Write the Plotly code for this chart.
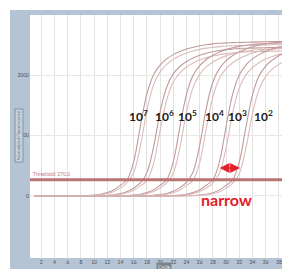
import plotly.graph_objects as go

# ---- data ----
CYCLES = list(range(1, 41))

DILUTION_LABELS = ["10<sup>7</sup>", "10<sup>6</sup>", "10<sup>5</sup>",
                   "10<sup>4</sup>", "10<sup>3</sup>", "10<sup>2</sup>"]

F_1E7_A = [0, 0, 0, 0, 0, 0, 2, 4, 8, 15, 29, 56, 102, 178, 269, 569, 1148, 1687, 2002, 2164,
           2266, 2337, 2390, 2430, 2460, 2484, 2501, 2514, 2524, 2532, 2535, 2538, 2541, 2544, 2547, 2550, 2552, 2554, 2556, 2558]
F_1E7_B = [0, 0, 0, 0, 0, 0, 1, 3, 6, 11, 21, 40, 75, 134, 219, 388, 817, 1414, 1833, 2052,
           2176, 2259, 2319, 2364, 2398, 2424, 2444, 2459, 2469, 2479, 2483, 2486, 2489, 2492, 2495, 2497, 2499, 2501, 2503, 2505]
F_1E6_A = [0, 0, 0, 0, 0, 0, 0, 0, 1, 3, 6, 11, 21, 39, 74, 132, 216, 382, 804, 1392,
           1803, 2019, 2141, 2223, 2281, 2326, 2360, 2385, 2405, 2420, 2430, 2439, 2442, 2445, 2448, 2451, 2454, 2456, 2458, 2460]
F_1E6_B = [0, 0, 0, 0, 0, 0, 0, 0, 0, 2, 4, 8, 14, 28, 53, 96, 167, 253, 535, 1080,
           1587, 1883, 2036, 2132, 2199, 2249, 2287, 2315, 2337, 2354, 2366, 2376, 2382, 2385, 2388, 2391, 2394, 2396, 2398, 2400]
F_1E5_A = [0, 0, 0, 0, 0, 0, 0, 0, 0, 0, 0, 0, 2, 4, 8, 15, 29, 56, 101, 177,
           268, 567, 1144, 1680, 1994, 2156, 2257, 2328, 2380, 2421, 2451, 2474, 2492, 2505, 2515, 2522, 2525, 2528, 2531, 2534]
F_1E5_B = [0, 0, 0, 0, 0, 0, 0, 0, 0, 0, 0, 0, 1, 3, 6, 11, 20, 39, 73, 132,
           215, 381, 800, 1386, 1796, 2011, 2133, 2214, 2272, 2316, 2350, 2376, 2395, 2410, 2420, 2429, 2432, 2435, 2438, 2441]
F_1E4_A = [0, 0, 0, 0, 0, 0, 0, 0, 0, 0, 0, 0, 0, 0, 0, 1, 3, 6, 11, 22,
           41, 77, 138, 225, 399, 840, 1454, 1884, 2109, 2237, 2322, 2384, 2430, 2466, 2492, 2513, 2528, 2540, 2549, 2553]
F_1E4_B = [0, 0, 0, 0, 0, 0, 0, 0, 0, 0, 0, 0, 0, 0, 0, 0, 2, 4, 8, 15,
           29, 54, 99, 173, 262, 553, 1116, 1640, 1946, 2104, 2203, 2272, 2324, 2363, 2393, 2416, 2432, 2445, 2455, 2462]
F_1E3_A = [0, 0, 0, 0, 0, 0, 0, 0, 0, 0, 0, 0, 0, 0, 0, 0, 0, 0, 0, 2,
           4, 8, 15, 29, 56, 102, 178, 269, 569, 1148, 1687, 2002, 2164, 2266, 2337, 2390, 2430, 2460, 2484, 2501]
F_1E3_B = [0, 0, 0, 0, 0, 0, 0, 0, 0, 0, 0, 0, 0, 0, 0, 0, 0, 0, 0, 1,
           3, 6, 11, 20, 39, 73, 131, 214, 379, 797, 1380, 1788, 2002, 2124, 2204, 2263, 2307, 2341, 2366, 2385]
F_1E2_A = [0, 0, 0, 0, 0, 0, 0, 0, 0, 0, 0, 0, 0, 0, 0, 0, 0, 0, 0, 0,
           0, 0, 2, 4, 8, 15, 29, 55, 101, 176, 267, 564, 1139, 1673, 1986, 2147, 2248, 2318, 2371, 2411]
F_1E2_B = [0, 0, 0, 0, 0, 0, 0, 0, 0, 0, 0, 0, 0, 0, 0, 0, 0, 0, 0, 0,
           0, 0, 1, 3, 6, 11, 20, 38, 72, 130, 211, 374, 787, 1363, 1766, 1978, 2098, 2177, 2235, 2278]

SERIES = [F_1E7_A, F_1E7_B, F_1E6_A, F_1E6_B, F_1E5_A, F_1E5_B,
          F_1E4_A, F_1E4_B, F_1E3_A, F_1E3_B, F_1E2_A, F_1E2_B]

THRESHOLD = 270
X_TICKS = list(range(2, 40, 2))
Y_TICKS = [0, 1000, 2000]
Y_TICKTEXT = ["0", "1000", "2000"]

# ---- figure ----
fig = go.Figure()
colors = ["#c29a9a", "#dbbcbb"]
for i, s in enumerate(SERIES):
    fig.add_trace(go.Scatter(x=CYCLES, y=s, mode="lines",
                             line=dict(color=colors[i % 2], width=1.1, shape="spline"),
                             hoverinfo="skip"))

band = "#b5c4d5"
L = -20 / 260
B = -11 / 243
T = 1 + 5 / 243
for (x0, x1, y0, y1) in [(L, 0, B, T), (0, 1, 1, T), (0, 1, B, 0)]:
    fig.add_shape(type="rect", xref="paper", yref="paper", x0=x0, x1=x1, y0=y0, y1=y1,
                  fillcolor=band, line=dict(width=0), layer="below")

fig.add_shape(type="line", xref="paper", yref="y", x0=0, x1=1, y0=THRESHOLD, y1=THRESHOLD,
              line=dict(color="#b87472", width=3))
fig.add_annotation(xref="paper", yref="y", x=0.005, y=THRESHOLD, xanchor="left", yanchor="bottom",
                   text="Threshold: 270.0", showarrow=False, yshift=1,
                   font=dict(size=5, color="#c07575"))

label_x = [16.8, 20.6, 24.2, 28.2, 31.8, 35.6]
for lx, lt in zip(label_x, DILUTION_LABELS):
    fig.add_annotation(x=lx, y=1322, text="<b>" + lt + "</b>", showarrow=False,
                       font=dict(family="Lato, sans-serif", size=12, color="#1a1a1a"))

fig.add_annotation(x=32.1, y=463, ax=28.8, ay=463, axref="x", ayref="y", text="",
                   showarrow=True, arrowside="end+start", arrowhead=2, startarrowhead=2,
                   arrowsize=1.4, startarrowsize=1.4, arrowwidth=1.4, arrowcolor="#e3202a")
fig.add_annotation(x=30.0, y=-50, text="<b>narrow</b>", showarrow=False,
                   font=dict(family="Lato, sans-serif", size=16, color="#e3202a"))

fig.add_annotation(xref="paper", yref="paper", x=-16 / 260, y=0.502, textangle=-90,
                   text="Normalized Fluorescence", showarrow=False,
                   font=dict(size=4.5, color="#6a7480"), bgcolor="#c6d1dd",
                   bordercolor="#8a929c", borderwidth=1, borderpad=1)
fig.add_annotation(xref="paper", yref="paper", x=0.515, y=-9 / 243, yanchor="middle",
                   text="Cycle", showarrow=False, font=dict(size=5, color="#e8e8e8"),
                   bgcolor="#7d848c", borderpad=1)

# the page adds an 8px body margin, so the figure is 8px smaller and starts at (8, 8)
fig.update_layout(width=282, height=261, margin=dict(l=22, r=0, t=7, b=11),
                  paper_bgcolor="white", plot_bgcolor="white", showlegend=False,
                  font=dict(family="Lato, Noto Sans, sans-serif"))
fig.update_xaxes(range=[0.29, 39.68], tickvals=X_TICKS, tickfont=dict(size=5, color="#4a4f55"),
                 showgrid=True, gridcolor="#e2e2e2", gridwidth=1, zeroline=False, showline=False,
                 ticks="")
fig.update_yaxes(range=[-1025, 2992], tickvals=Y_TICKS, ticktext=Y_TICKTEXT,
                 tickfont=dict(size=5, color="#4a4f55"), showgrid=True, gridcolor="#e8e8e8",
                 zeroline=False, showline=False, ticks="")

fig.write_html("out.html")
